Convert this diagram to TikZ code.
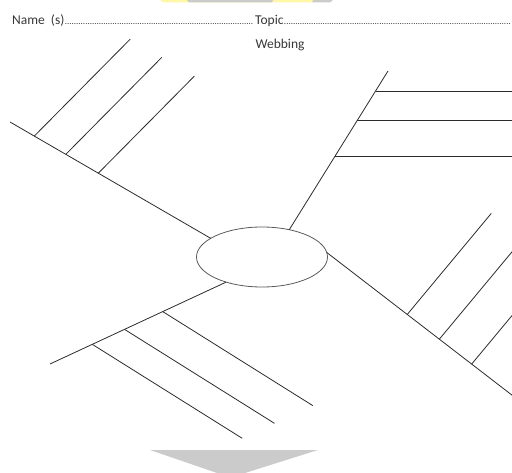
\documentclass[tikz,border=0pt]{standalone}
\usepackage{fontspec}
\setmainfont{Carlito}
\usetikzlibrary{shapes.geometric,calc}
\definecolor{inkline}{HTML}{2B2B2B}
\definecolor{greyfill}{HTML}{CBCBCB}
\definecolor{wmyellow}{HTML}{FFF6A6}
\tikzset{
  spoke/.style={draw=inkline,line width=0.8pt},
  rib/.style={draw=inkline,line width=0.8pt},
  hubnode/.style={ellipse,draw=black!65,line width=0.8pt,minimum width=131pt,minimum height=60pt,
                  inner sep=0pt,outer sep=0pt},
  head/.style={font=\fontsize{13.5}{15}\selectfont,text=black!78,inner sep=0pt,anchor=base west},
}
\newcommand{\dotrun}[1]{\makebox[#1]{\leaders\hbox{\fontsize{9}{9}\selectfont.}\hfill}}

\begin{document}
\begin{tikzpicture}[x=1pt,y=-1pt]
  \useasboundingbox (0,0) rectangle (512,473);
  \clip (0,0) rectangle (512,473);
  % faded marks at the page edges
  \fill[wmyellow] (160,0) -- (315,0) -- (312,2.5) -- (163,2.5) -- cycle;
  \fill[greyfill] (187,0) -- (273,0) -- (272,2.5) -- (189,2.5) -- cycle;
  \fill[greyfill] (313,0) -- (333,0) -- (330,2.5) -- (312,2.5) -- cycle;
  \fill[greyfill] (150,450) -- (318,450) -- (245,473) -- (217,473) -- cycle;

  % header
  \node[head] (name) at (12,25) {Name\ \ (s)};
  \node[head] (topic) at (255,25) {Topic};
  \path let \p1=(name.base east), \p2=(topic.base west) in
    node[head] (namedots) at (\p1) {\dotrun{\dimexpr\x2-\x1\relax}};
  \path let \p1=(topic.base east) in
    node[head] (topicdots) at (\p1) {\dotrun{\dimexpr512pt-\x1\relax}};
  \node[head,anchor=base] (title) at (280,49) {Webbing};

  % hub and spokes
  \node[hubnode] (hub) at (262,257) {};
  \coordinate (ulTip) at (10,122);
  \coordinate (urTip) at (388,71);
  \coordinate (lrTip) at (530,409);
  \coordinate (llTip) at (50,364);

  \draw[spoke] (hub.160.6) -- (ulTip) coordinate[pos=.56] (ul1) coordinate[pos=.722] (ul2) coordinate[pos=.879] (ul3);
  \draw[spoke] (hub.45) -- (urTip) coordinate[pos=.465] (ur1) coordinate[pos=.686] (ur2) coordinate[pos=.874] (ur3);
  \draw[spoke] (hub.4.3) -- (lrTip) coordinate[pos=.396] (lr1) coordinate[pos=.554] (lr2) coordinate[pos=.713] (lr3);
  \draw[spoke] (hub.215) -- (llTip) coordinate[pos=.36] (ll1) coordinate[pos=.577] (ll2) coordinate[pos=.76] (ll3);

  % ribs
  \draw[rib] (ul1) -- ++(96,-97);  \draw[rib] (ul2) -- ++(96,-97);  \draw[rib] (ul3) -- ++(96,-97);
  \draw[rib] (ur1) -- ++(200,0);   \draw[rib] (ur2) -- ++(200,0);   \draw[rib] (ur3) -- ++(200,0);
  \draw[rib] (lr1) -- ++(84,-101); \draw[rib] (lr2) -- ++(84,-101); \draw[rib] (lr3) -- ++(84,-101);
  \draw[rib] (ll1) -- ++(150,94);  \draw[rib] (ll2) -- ++(150,94);  \draw[rib] (ll3) -- ++(150,94);
\end{tikzpicture}
\end{document}
